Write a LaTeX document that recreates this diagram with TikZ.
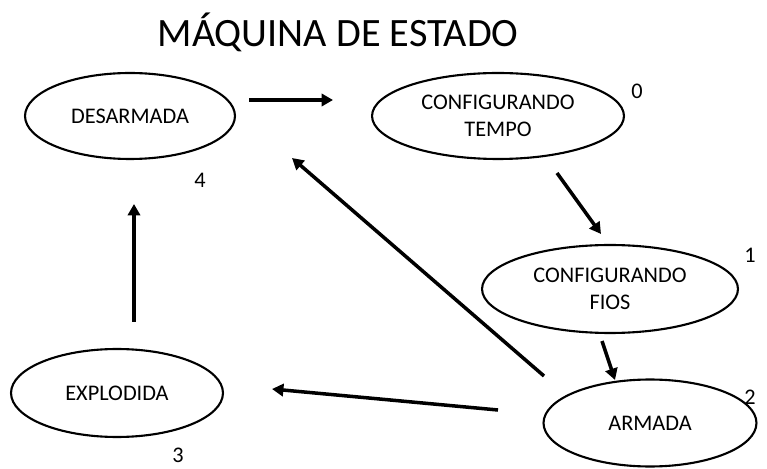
\documentclass[tikz,border=0pt]{standalone}
\usepackage{fontspec}
\setmainfont{Carlito}
\usetikzlibrary{shapes.geometric,arrows.meta}
\begin{document}
\begin{tikzpicture}[x=0.02cm, y=-0.02cm, line join=bevel]

                \tikzset{
                  state_node/.style = {ellipse, draw=black, line width=1.2pt, inner sep=0pt,
                                       align=center, font=\fontsize{12.7}{15.3}\selectfont},
                  trans_edge/.style = {line width=2pt, -{Triangle[length=6.5pt,width=7pt]}},
                  state_num/.style  = {font=\fontsize{12.7}{14}\selectfont}
                }

                \useasboundingbox (0,0) rectangle (767,469);

                \node[font=\fontsize{22.9}{26}\selectfont] (title) at (338,32) {MÁQUINA DE ESTADO};

                % estados
                \node[state_node, minimum width=4.2cm, minimum height=1.72cm] (desarmada) at (130,116) {DESARMADA};
                \node[state_node, minimum width=5.04cm, minimum height=1.72cm] (tempo) at (498,116) {CONFIGURANDO\\TEMPO};
                \node[state_node, minimum width=5.12cm, minimum height=1.76cm] (fios) at (610,289) {CONFIGURANDO\\FIOS};
                \node[state_node, minimum width=4.26cm, minimum height=1.74cm] (armada) at (650,423) {ARMADA};
                \node[state_node, minimum width=4.24cm, minimum height=1.76cm] (explodida) at (117,393) {EXPLODIDA};

                \foreach \n/\px/\py in {0/637/91, 1/750/255, 2/750/397, 3/178/455, 4/200/180}{
                    \node[state_num] (num\n) at (\px,\py) {\n};
                }

                % pontas das setas
                \coordinate (desA) at (249,100);  \coordinate (tempoA) at (333,100);
                \coordinate (tempoB) at (557,173); \coordinate (fiosB) at (601,234);
                \coordinate (fiosC) at (602,341); \coordinate (armadaC) at (615,380);
                \coordinate (armadaD) at (544,376); \coordinate (desD) at (292,158);
                \coordinate (armadaE) at (498,410); \coordinate (explE) at (272,389);
                \coordinate (explF) at (134,322); \coordinate (desF) at (134,204);

                \draw[trans_edge] (desA) -- (tempoA);
                \draw[trans_edge] (tempoB) -- (fiosB);
                \draw[trans_edge] (fiosC) -- (armadaC);
                \draw[trans_edge] (armadaD) -- (desD);
                \draw[trans_edge] (armadaE) -- (explE);
                \draw[trans_edge] (explF) -- (desF);
\end{tikzpicture}
\end{document}
